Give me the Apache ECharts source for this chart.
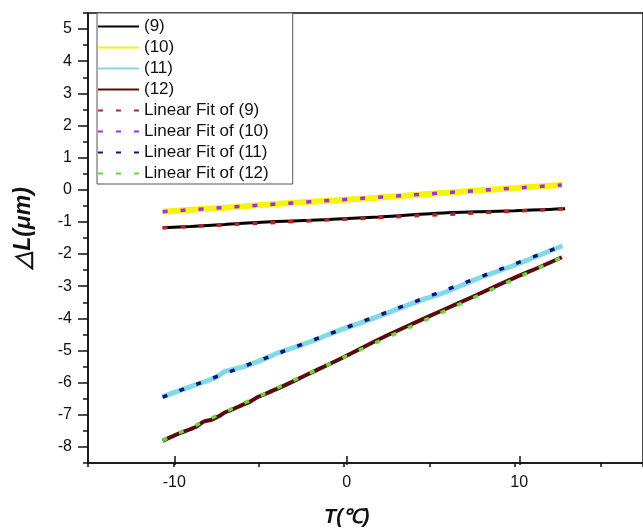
<!DOCTYPE html>
<html>
<head>
<meta charset="utf-8">
<script src="https://cdn.jsdelivr.net/npm/echarts@6/dist/echarts.min.js"></script>
<style>html,body{margin:0;padding:0;background:#fff;}#c{width:643px;height:532px;}</style>
</head>
<body>
<div id="c"></div>
<script>
// ---- data ----
const seriesNames = ['(9)', '(10)', '(11)', '(12)', 'Linear Fit of (9)', 'Linear Fit of (10)', 'Linear Fit of (11)', 'Linear Fit of (12)'];

const t9 = [-10.63, -9.0, -7.0, -6.19, -4.0, -2.0, -0.39, 2.0, 4.0, 5.41, 8.0, 10.0, 12.0, 12.94];
const v9 = [-1.18, -1.14, -1.08, -1.05, -0.99, -0.95, -0.91, -0.85, -0.78, -0.73, -0.68, -0.65, -0.61, -0.59];

const t10 = [-10.63, -8.0, -6.0, -4.25, -2.0, 0.77, 3.28, 6.57, 9.0, 12.75];
const v10 = [-0.68, -0.59, -0.52, -0.45, -0.37, -0.29, -0.19, -0.07, 0.02, 0.15];

const t11 = [-10.63, -9.57, -8.50, -7.54, -7.10, -6.96, -6.48, -5.51, -4.54, -3.87, -2.52, -1.45, -0.49, 1.54, 4.44, 5.80, 7.83, 9.86, 11.79, 12.79];
const v11 = [-6.44, -6.23, -6.03, -5.84, -5.69, -5.65, -5.59, -5.43, -5.23, -5.07, -4.83, -4.62, -4.41, -4.03, -3.45, -3.21, -2.76, -2.37, -1.96, -1.74];

const t12 = [-10.63, -9.66, -8.70, -8.21, -7.73, -7.25, -6.96, -6.48, -5.99, -5.51, -5.03, -3.87, -2.13, 0.0, 1.93, 4.25, 5.80, 7.73, 9.66, 11.59, 12.75];
const v12 = [-7.81, -7.58, -7.38, -7.21, -7.15, -7.02, -6.92, -6.82, -6.70, -6.59, -6.44, -6.18, -5.74, -5.20, -4.68, -4.11, -3.74, -3.28, -2.81, -2.37, -2.10];

const fit9T = [-10.63, 12.94];   const fit9V = [-1.18, -0.59];
const fit10T = [-10.63, 12.75];  const fit10V = [-0.68, 0.15];
const fit11T = [-10.63, 12.79];  const fit11V = [-6.45, -1.74];
const fit12T = [-10.63, 12.75];  const fit12V = [-7.80, -2.10];

const xTickLabels = [-10, 0, 10];
const yTickLabels = [-8, -7, -6, -5, -4, -3, -2, -1, 0, 1, 2, 3, 4, 5];

// ---- build ----
function zip(a, b) { return a.map((x, i) => [x, b[i]]); }
const FONT = 'Liberation Sans, Arial, sans-serif';

const colors = ['#000000', '#f4f40c', '#7fd9e6', '#5a0c0c', '#b82424', '#a62ed8', '#14147e', '#6ad63a'];
const widths = [3, 6, 5, 4, 3.5, 3.5, 3.5, 3.5];
const datasets = [
  zip(t9, v9), zip(t10, v10), zip(t11, v11), zip(t12, v12),
  zip(fit9T, fit9V), zip(fit10T, fit10V), zip(fit11T, fit11V), zip(fit12T, fit12V)
];

const series = datasets.map((d, i) => ({
  name: seriesNames[i],
  type: 'line',
  xAxisIndex: 0, yAxisIndex: 0,
  data: d,
  symbol: 'none',
  smooth: i < 4 ? 0.3 : false,
  animation: false,
  color: colors[i],
  z: i < 4 ? 2 : 3,
  lineStyle: {
    color: colors[i],
    width: widths[i],
    type: i < 4 ? 'solid' : [5, 13],
    cap: 'butt'
  }
}));

const axisLineStyle = { color: '#111', width: 1.5 };

const option = {
  backgroundColor: '#fff',
  animation: false,
  grid: [
    { left: 88, top: 13, width: 560.6, height: 450, show: true, borderColor: '#111', borderWidth: 1.5 },
    { left: 88, top: 29.07, width: 560.6, height: 417.86 },
    { left: 174.25, top: 13, width: 345, height: 450 }
  ],
  xAxis: [
    { gridIndex: 0, type: 'value', min: -15, max: 17.5, interval: 5,
      axisLine: { show: true, onZero: false, lineStyle: axisLineStyle },
      axisTick: { show: true, length: 4, lineStyle: axisLineStyle },
      axisLabel: { show: false }, splitLine: { show: false } },
    { gridIndex: 1, type: 'value', show: false, min: -15, max: 17.5 },
    { gridIndex: 2, type: 'value', min: -10, max: 10, interval: 10,
      axisLine: { show: false, onZero: false },
      axisTick: { show: true, length: 9, lineStyle: axisLineStyle },
      axisLabel: { show: true, fontSize: 16, fontFamily: FONT, color: '#111', margin: 19,
        formatter: v => (xTickLabels.indexOf(v) >= 0 ? String(v) : '') },
      splitLine: { show: false },
      name: 'T(℃)', nameLocation: 'middle', nameGap: 51,
      nameTextStyle: { fontSize: 20, fontWeight: 'bold', fontStyle: 'italic', fontFamily: FONT, color: '#111' } }
  ],
  yAxis: [
    { gridIndex: 0, type: 'value', min: -8.5, max: 5.5, interval: 0.5,
      axisLine: { show: true, onZero: false, lineStyle: axisLineStyle },
      axisTick: { show: true, length: 5, lineStyle: axisLineStyle },
      axisLabel: { show: false }, splitLine: { show: false } },
    { gridIndex: 1, type: 'value', min: -8, max: 5, interval: 1,
      axisLine: { show: false, onZero: false },
      axisTick: { show: true, length: 10, lineStyle: axisLineStyle },
      axisLabel: { show: true, fontSize: 16, fontFamily: FONT, color: '#111', margin: 16,
        formatter: v => (yTickLabels.indexOf(v) >= 0 ? String(v) : '') },
      splitLine: { show: false },
      name: '△L(μm)', nameLocation: 'middle', nameGap: 53,
      nameTextStyle: { fontSize: 23, fontWeight: 'bold', fontStyle: 'italic', fontFamily: FONT, color: '#111',
        padding: [0, 0, 0, 20] } },
    { gridIndex: 2, type: 'value', show: false, min: -8.5, max: 5.5 }
  ],
  legend: {
    data: seriesNames,
    orient: 'vertical',
    left: 97, top: 13,
    itemWidth: 41, itemHeight: 14, itemGap: 4.0,
    padding: [5, 24, 2, 0],
    borderColor: '#555', borderWidth: 1,
    backgroundColor: '#fff',
    itemStyle: { opacity: 0 },
    textStyle: { fontSize: 17, fontFamily: FONT, color: '#111' },
    selectedMode: false
  },
  series: series
};

const chart = echarts.init(document.getElementById('c'), null, { renderer: 'canvas' });
chart.setOption(option);
</script>
</body>
</html>
